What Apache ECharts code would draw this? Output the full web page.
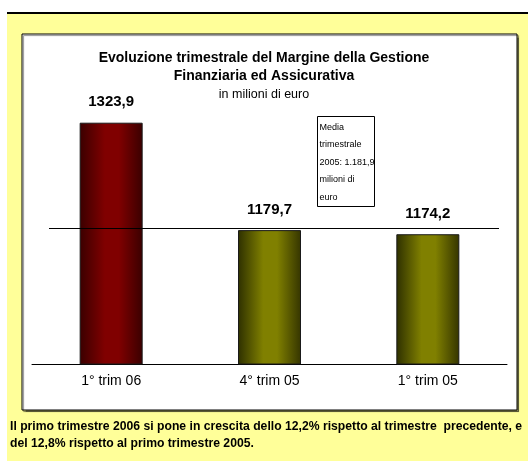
<!DOCTYPE html>
<html>
<head>
<meta charset="utf-8">
<script src="https://cdn.jsdelivr.net/npm/echarts@6/dist/echarts.min.js"></script>
<style>
  html, body { margin: 0; padding: 0; background: #fff; }
  #main { width: 528px; height: 461px; }
</style>
</head>
<body>
<div id="main"></div>
<script>
// dati (milioni di euro)
const categories = ['1° trim 06', '4° trim 05', '1° trim 05']
const values = [1323.9, 1179.7, 1174.2]
const mediaTrimestrale2005 = 1181.9
const titleLines = ['Evoluzione trimestrale del Margine della Gestione', 'Finanziaria ed Assicurativa']
const subTitle = 'in milioni di euro'
const noteLines = ['Media', 'trimestrale', '2005: 1.181,9', 'milioni di', 'euro']
const footerLines = [
  'Il primo trimestre 2006 si pone in crescita dello 12,2% rispetto al trimestre  precedente, e',
  'del 12,8% rispetto al primo trimestre 2005.'
]

// no narrow font available: Liberation Sans at smaller sizes
const SANS = "'Liberation Sans', Arial, sans-serif"

function barGradient(edgeL, mid, edgeR) {
  return new echarts.graphic.LinearGradient(0, 0, 1, 0, [
    { offset: 0, color: edgeL },
    { offset: 0.4, color: mid },
    { offset: 0.62, color: mid },
    { offset: 1, color: edgeR },
  ])
}
const red = barGradient('#3a0000', '#800000', '#3a0000')
const olive = barGradient('#2e3000', '#808000', '#353500')

const fmt = v => v.toFixed(1).replace('.', ',')

const myChart = echarts.init(document.getElementById('main'), null, { renderer: 'canvas' })

const option = {
  backgroundColor: '#ffffff',
  animation: false,
  title: {
    text: titleLines.join('\n'),
    subtext: subTitle,
    left: 'center',
    top: 49,
    padding: 0,
    itemGap: 2,
    textStyle: {
      fontFamily: SANS,
      fontWeight: 'bold',
      fontSize: 14,
      lineHeight: 18,
      color: '#000',
    },
    subtextStyle: {
      fontFamily: SANS,
      fontSize: 12.5,
      lineHeight: 15,
      color: '#000',
    },
    z: 10,
  },
  graphic: [
    // linea nera in alto
    { type: 'rect', shape: { x: 7, y: 12, width: 521, height: 2 }, style: { fill: '#000' }, z: -20 },
    // sfondo giallo
    { type: 'rect', shape: { x: 7, y: 14, width: 521, height: 447 }, style: { fill: '#ffff99' }, z: -20 },
    // riquadro bianco del grafico
    {
      type: 'rect',
      shape: { x: 22, y: 34, width: 495, height: 376 },
      style: {
        fill: '#fff', stroke: '#000', lineWidth: 1,
        shadowColor: 'rgba(0,0,0,0.45)', shadowOffsetX: 1.5, shadowOffsetY: 1.5, shadowBlur: 1,
      },
      z: -10,
    },
    // nota media trimestrale
    {
      type: 'group',
      left: 317,
      top: 116,
      z: 20,
      children: [
        { type: 'rect', shape: { x: 0, y: 0, width: 57, height: 90 }, style: { fill: '#fff', stroke: '#000', lineWidth: 1 } },
        {
          type: 'text', x: 2, y: 2,
          style: {
            text: noteLines.join('\n'),
            font: '9px ' + SANS,
            lineHeight: 17.5,
            fill: '#000',
          },
        },
      ],
    },
    // testo a pie' di pagina
    {
      type: 'text',
      left: 10,
      top: 418,
      z: 20,
      style: {
        text: footerLines.join('\n'),
        font: 'bold 12.2px ' + SANS,
        lineHeight: 17,
        fill: '#000',
      },
    },
  ],
  grid: {
    left: 32,
    right: 21,
    top: 66,
    bottom: 97,
    containLabel: false,
  },
  xAxis: {
    type: 'category',
    data: categories,
    axisLine: { show: true, lineStyle: { color: '#000', width: 1 } },
    axisTick: { show: false },
    axisLabel: {
      margin: 10,
      fontFamily: SANS,
      fontSize: 14,
      color: '#000',
    },
  },
  yAxis: {
    type: 'value',
    min: 1000,
    max: 1400,
    show: false,
    splitLine: { show: false },
  },
  series: [
    {
      type: 'bar',
      barWidth: 63,
      data: values.map((v, i) => ({
        value: v,
        itemStyle: { color: i === 0 ? red : olive },
      })),
      itemStyle: { borderColor: '#1a1a1a', borderWidth: 1 },
      label: {
        show: true,
        position: 'top',
        distance: 13,
        formatter: p => fmt(p.value),
        fontFamily: SANS,
        fontWeight: 'bold',
        fontSize: 15,
        color: '#000',
      },
      markLine: {
        silent: true,
        symbol: 'none',
        label: { show: false },
        lineStyle: { color: '#000', width: 1, type: 'solid' },
        data: [[
          { x: 49, yAxis: mediaTrimestrale2005 },
          { x: 499, yAxis: mediaTrimestrale2005 },
        ]],
      },
    },
  ],
}

myChart.setOption(option, true)
window.addEventListener('resize', () => myChart.resize())
</script>
</body>
</html>
